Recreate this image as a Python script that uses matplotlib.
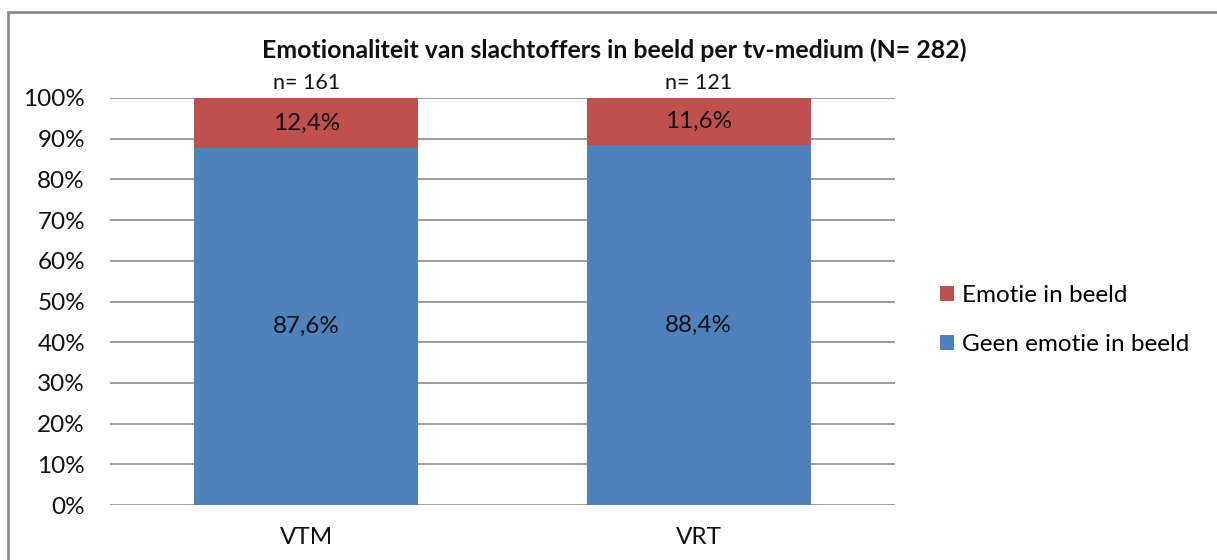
import numpy as np
import matplotlib.pyplot as plt
from matplotlib.patches import Rectangle

plt.rcParams['font.family'] = ['Lato', 'DejaVu Sans']

media = ['VTM', 'VRT']
geen_emotie = [87.6, 88.4]
emotie = [12.4, 11.6]
n_labels = ['n= 161', 'n= 121']
title = 'Emotionaliteit van slachtoffers in beeld per tv-medium (N= 282)'

blue = '#4F81BD'
red = '#C0504D'

fig = plt.figure(figsize=(12.17, 5.6), dpi=100)
ax = fig.add_axes([110 / 1217, 1 - 505 / 560, 785 / 1217, 407 / 560])

x = np.arange(len(media))
b1 = ax.bar(x, geen_emotie, width=0.57, color=blue, label='Geen emotie in beeld', zorder=3)
b2 = ax.bar(x, emotie, width=0.57, bottom=geen_emotie, color=red, label='Emotie in beeld', zorder=3)

for i in range(len(media)):
    ax.text(x[i], geen_emotie[i] / 2, f'{geen_emotie[i]:.1f}%'.replace('.', ','),
            ha='center', va='center', fontsize=17.5, color='#111111', zorder=4)
    ax.text(x[i], geen_emotie[i] + emotie[i] / 2, f'{emotie[i]:.1f}%'.replace('.', ','),
            ha='center', va='center', fontsize=17.5, color='#111111', zorder=4)
    ax.text(x[i], 101.3, n_labels[i], ha='center', va='bottom', fontsize=15.5, color='#111111')

ax.set_xlim(-0.5, 1.5)
ax.set_ylim(0, 100)
ax.set_yticks(np.arange(0, 101, 10))
ax.set_yticklabels([f'{v}%' for v in range(0, 101, 10)])
ax.set_xticks(x)
ax.set_xticklabels(media)
ax.tick_params(axis='both', length=0, labelsize=17.5, colors='#111111')
ax.tick_params(axis='y', pad=18)
ax.tick_params(axis='x', pad=16)
ax.yaxis.grid(True, color='#8c8c8c', linewidth=1.2, zorder=0)
for s in ax.spines.values():
    s.set_visible(False)

fig.text(614 / 1217, 1 - 50 / 560, title, ha='center', va='center',
         fontsize=17.9, fontweight='bold', color='#111111')

handles, labels = ax.get_legend_handles_labels()
fig.legend(handles[::-1], labels[::-1], loc='center left',
           bbox_to_anchor=(918 / 1217, 1 - 320 / 560), frameon=False,
           fontsize=17.5, handlelength=0.6, handleheight=0.6,
           handletextpad=0.3, labelspacing=1.15)

fig.patches.append(Rectangle((8 / 1217, -0.1), 1.2, 1 - 12 / 560 + 0.1,
                             transform=fig.transFigure, fill=False,
                             edgecolor='#8c8c8c', linewidth=2))

plt.savefig('out.png')
